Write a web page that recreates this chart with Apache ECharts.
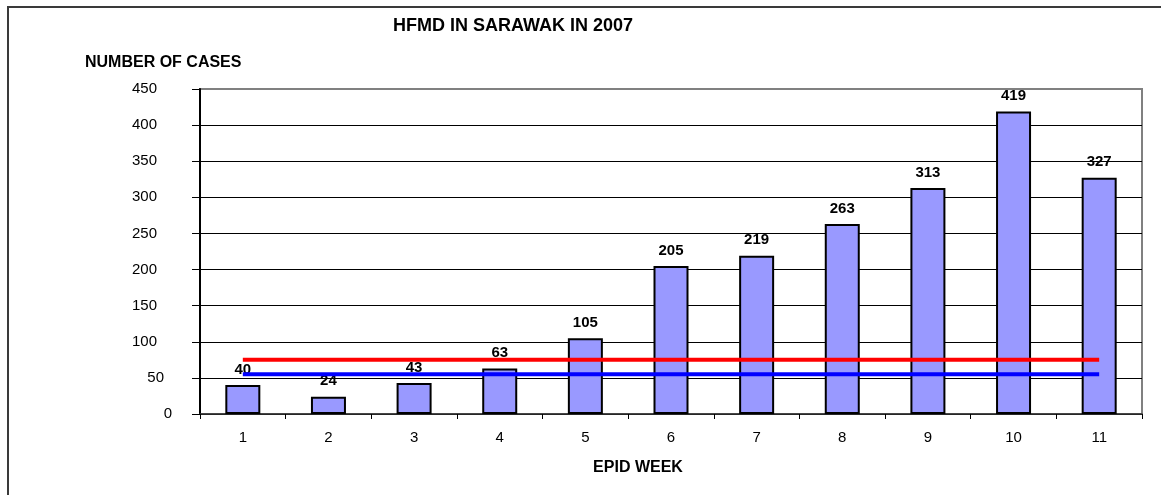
<!DOCTYPE html>
<html>
<head>
<meta charset="utf-8">
<script src="https://cdn.jsdelivr.net/npm/echarts@6/dist/echarts.min.js"></script>
<style>
html,body{margin:0;padding:0;background:#fff;}
#chart{width:1161px;height:495px;}
</style>
</head>
<body>
<div id="chart"></div>
<script>
const titleText = 'HFMD IN SARAWAK IN 2007';
const yAxisTitle = 'NUMBER OF CASES';
const xAxisTitle = 'EPID WEEK';
const weeks = ['1','2','3','4','5','6','7','8','9','10','11'];
const cases = [40, 24, 43, 63, 105, 205, 219, 263, 313, 419, 327];
const redLine = [75, 75, 75, 75, 75, 75, 75, 75, 75, 75, 75];
const blueLine = [55, 55, 55, 55, 55, 55, 55, 55, 55, 55, 55];
const yMin = 0, yMax = 450, yStep = 50;

const FONT = 'Liberation Sans, Arial, sans-serif';
const chart = echarts.init(document.getElementById('chart'), null, {renderer: 'canvas'});
const lblBase = {fontSize: 15, fontFamily: FONT, color: '#000'};
chart.setOption({
  animation: false,
  backgroundColor: '#fff',
  grid: {left: 200, right: 19, top: 89, bottom: 81, show: true, borderColor: '#808080', borderWidth: 2, backgroundColor: '#fff'},
  xAxis: {
    type: 'category',
    data: weeks,
    axisLine: {lineStyle: {color: '#333', width: 1.5}},
    axisTick: {show: true, length: 5, lineStyle: {color: '#000'}},
    axisLabel: {margin: 16, fontSize: 15, fontFamily: FONT, color: '#000'},
    splitLine: {show: false}
  },
  yAxis: {
    type: 'value',
    min: yMin, max: yMax, interval: yStep,
    axisLine: {show: true, lineStyle: {color: '#000', width: 2}},
    axisTick: {show: true, length: 8, lineStyle: {color: '#000'}},
    axisLabel: {
      margin: 28,
      formatter: function (v) {
        if (v === 0) return '{z|0}';
        if (v === 50) return '{f|50}';
        return '{n|' + v + '}';
      },
      rich: {
        z: Object.assign({}, lblBase),
        f: Object.assign({padding: [0, 8, 0, 0]}, lblBase),
        n: Object.assign({padding: [0, 15, 0, 0]}, lblBase)
      },
      fontSize: 15, fontFamily: FONT, color: '#000'
    },
    splitLine: {show: true, lineStyle: {color: ['#000','#000','#000','#000','#000','#000','#000','#000','#000','#808080'], width: 1}}
  },
  series: [
    {
      type: 'bar',
      data: cases,
      barWidth: 35,
      itemStyle: {color: '#9999FF', borderColor: '#000', borderWidth: 2},
      label: {show: true, position: 'top', distance: 8, fontSize: 15, fontWeight: 'bold', fontFamily: FONT, color: '#000'},
      silent: true
    },
    {
      type: 'line',
      data: redLine,
      symbol: 'none',
      lineStyle: {color: '#FF0000', width: 4},
      silent: true
    },
    {
      type: 'line',
      data: blueLine,
      symbol: 'none',
      lineStyle: {color: '#0000FF', width: 4},
      silent: true
    }
  ],
  graphic: [
    {type: 'rect', shape: {x: 8, y: 7, width: 1300, height: 700}, style: {fill: 'none', stroke: '#3a3a3a', lineWidth: 2}, z: 100, silent: true},
    {type: 'text', x: 513, y: 26, style: {text: titleText, fontSize: 18, fontWeight: 'bold', fontFamily: FONT, fill: '#000', textAlign: 'center', textVerticalAlign: 'middle'}},
    {type: 'text', x: 85, y: 63, style: {text: yAxisTitle, fontSize: 16, fontWeight: 'bold', fontFamily: FONT, fill: '#000', textAlign: 'left', textVerticalAlign: 'middle'}},
    {type: 'text', x: 638, y: 468, style: {text: xAxisTitle, fontSize: 16, fontWeight: 'bold', fontFamily: FONT, fill: '#000', textAlign: 'center', textVerticalAlign: 'middle'}}
  ]
});
</script>
</body>
</html>
